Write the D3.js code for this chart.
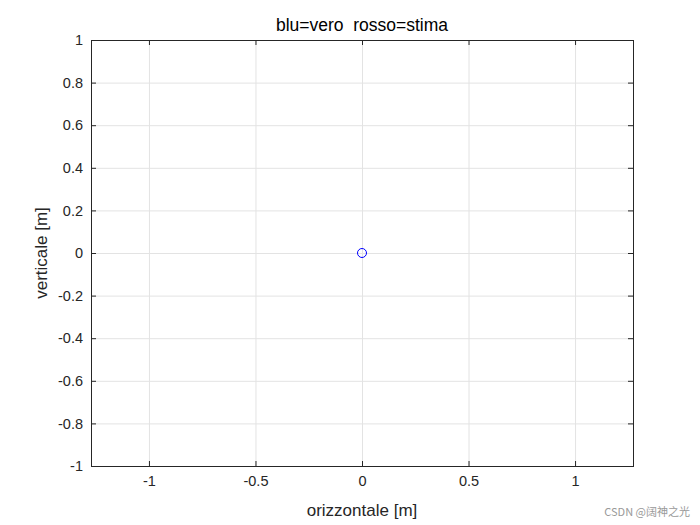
<!DOCTYPE html>
<html><head><meta charset="utf-8">
<script src="https://cdn.jsdelivr.net/npm/d3@7"></script>
<style>body{margin:0;background:#fff}text{font-family:Arial,"Liberation Sans",sans-serif}</style>
</head><body>
<svg id="c" width="700" height="525"></svg>
<script>
var xTicks = [-1, -0.5, 0, 0.5, 1];
var yTicks = [-1, -0.8, -0.6, -0.4, -0.2, 0, 0.2, 0.4, 0.6, 0.8, 1];
var trueX = [0], trueY = [0];

var svg = d3.select("#c");
var L = 91, R = 633, T = 40, B = 466;
var x = d3.scaleLinear().domain([-1.272, 1.272]).range([L, R]);
var y = d3.scaleLinear().domain([-1, 1]).range([B, T]);

// grid
svg.append("g").selectAll("line").data(xTicks).enter().append("line")
  .attr("x1", d => x(d) + 0.5).attr("x2", d => x(d) + 0.5).attr("y1", T).attr("y2", B)
  .attr("stroke", "#e3e3e3").attr("stroke-width", 1);
svg.append("g").selectAll("line").data(yTicks).enter().append("line")
  .attr("y1", d => y(d) + 0.5).attr("y2", d => y(d) + 0.5).attr("x1", L).attr("x2", R)
  .attr("stroke", "#e3e3e3").attr("stroke-width", 1);

function fmt(d){ return String(d); }
function style(g){
  g.select(".domain").remove();
  g.selectAll("line").attr("stroke", "#262626");
  g.selectAll("text").attr("fill", "#262626").style("font-size", "14.5px");
}
svg.append("g").attr("transform", "translate(0," + B + ")")
  .call(d3.axisBottom(x).tickValues(xTicks).tickFormat(fmt).tickSize(-5).tickPadding(10)).call(style);
svg.append("g").attr("transform", "translate(0," + T + ")")
  .call(d3.axisTop(x).tickValues(xTicks).tickFormat("").tickSize(-5)).call(style);
svg.append("g").attr("transform", "translate(" + L + ",0)")
  .call(d3.axisLeft(y).tickValues(yTicks).tickFormat(fmt).tickSize(-5).tickPadding(8)).call(style);
svg.append("g").attr("transform", "translate(" + R + ",0)")
  .call(d3.axisRight(y).tickValues(yTicks).tickFormat("").tickSize(-5)).call(style);

svg.append("rect").attr("x", L + 0.5).attr("y", T + 0.5).attr("width", R - L).attr("height", B - T)
  .attr("fill", "none").attr("stroke", "#262626");

svg.selectAll("circle.p").data(trueX).enter().append("circle")
  .attr("cx", (d) => x(d)).attr("cy", (d, i) => y(trueY[i])).attr("r", 4.5)
  .attr("fill", "none").attr("stroke", "#0000ff");

svg.append("text").attr("x", (L + R) / 2).attr("y", 31).attr("text-anchor", "middle")
  .style("font-size", "17.5px").attr("fill", "#000").attr("xml:space", "preserve").text("blu=vero  rosso=stima");
svg.append("text").attr("x", (L + R) / 2).attr("y", 516).attr("text-anchor", "middle")
  .style("font-size", "17px").attr("fill", "#262626").text("orizzontale [m]");
svg.append("text").attr("transform", "translate(47," + (T + B) / 2 + ") rotate(-90)").attr("text-anchor", "middle")
  .style("font-size", "17px").attr("fill", "#262626").text("verticale [m]");
svg.append("text").attr("x", 690).attr("y", 516).attr("text-anchor", "end")
  .style("font-size", "11px").style("font-family", "'Noto Sans CJK SC',sans-serif").attr("fill", "#999").text("CSDN @阔神之光");
</script>
</body></html>
